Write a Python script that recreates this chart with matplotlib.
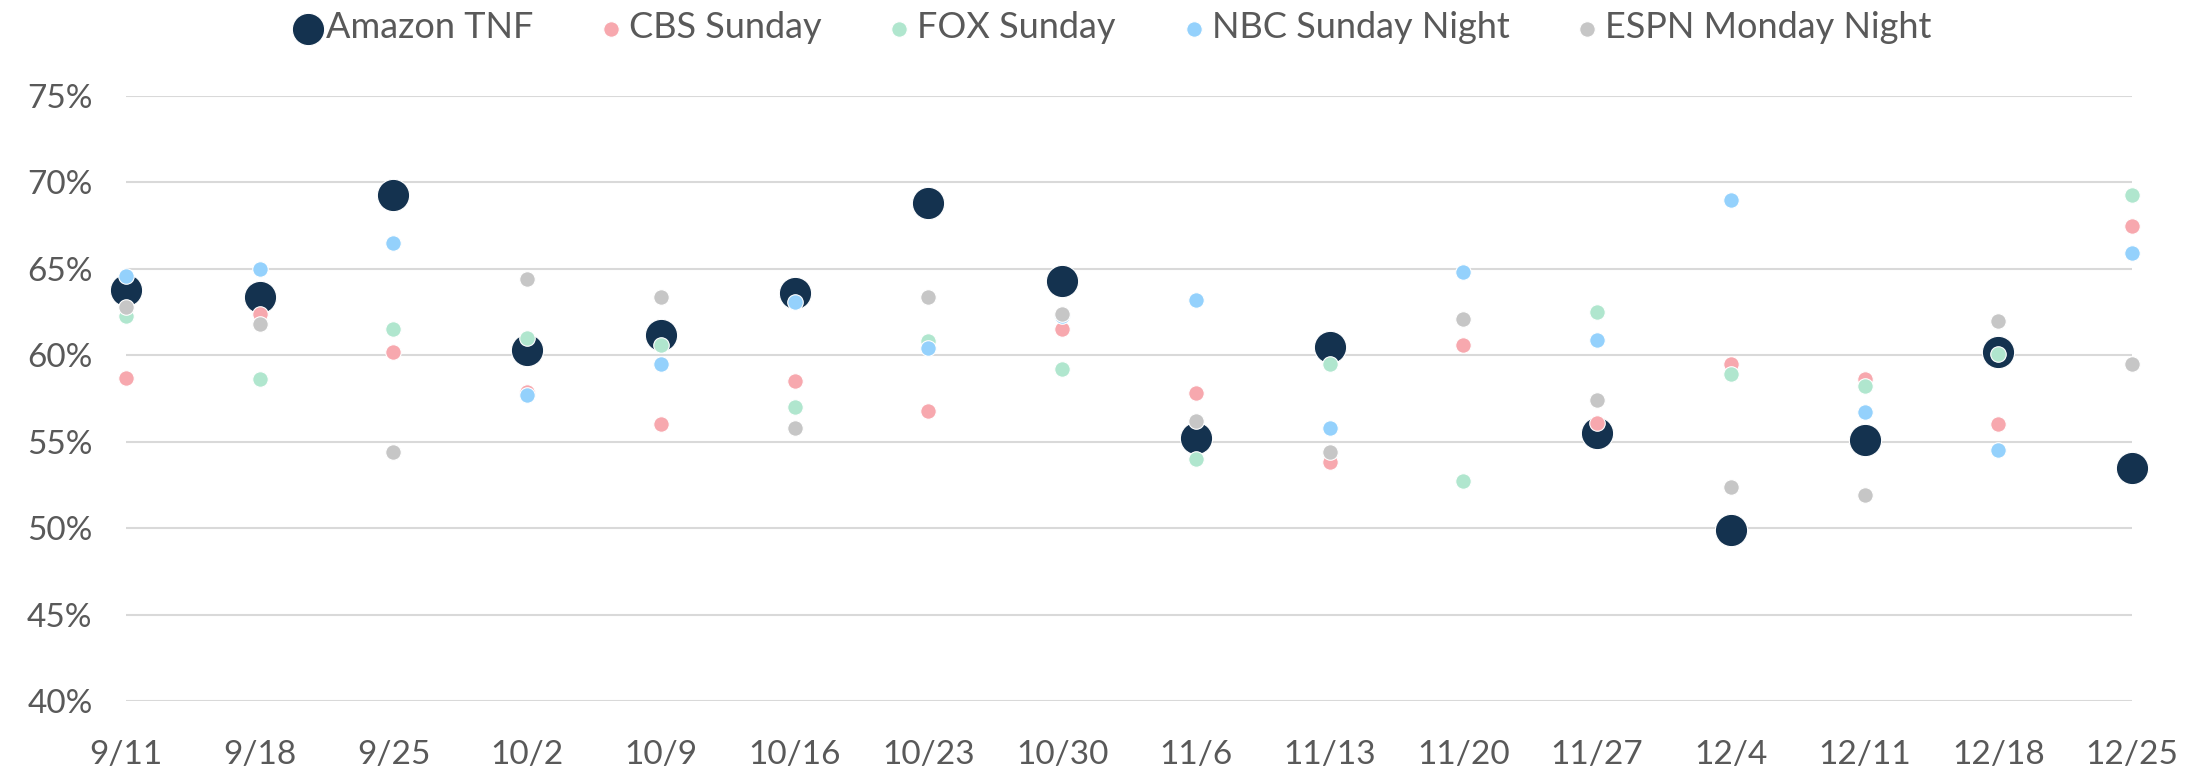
#!/usr/bin/env python
# -*- coding: utf-8 -*-

import numpy as np
import matplotlib
matplotlib.use('Agg')
import matplotlib.pyplot as plt
import matplotlib.ticker as mt

weeks = ['9/11', '9/18', '9/25', '10/2', '10/9', '10/16', '10/23', '10/30',
         '11/6', '11/13', '11/20', '11/27', '12/4', '12/11', '12/18', '12/25']

amazon = [63.8, 63.4, 69.3, 60.3, 61.2, 63.6, 68.8, 64.3,
          55.2, 60.5, np.nan, 55.5, 49.9, 55.1, 60.2, 53.5]
cbs = [58.7, 62.4, 60.2, 57.9, 56.0, 58.5, 56.8, 61.5,
       57.8, 53.8, 60.6, 56.1, 59.5, 58.6, 56.0, 67.5]
fox = [62.3, 58.6, 61.5, 61.0, 60.6, 57.0, 60.8, 59.2,
       54.0, 59.5, 52.7, 62.5, 58.9, 58.2, 60.1, 69.3]
nbc = [64.6, 65.0, 66.5, 57.7, 59.5, 63.1, 60.4, 62.3,
       63.2, 55.8, 64.8, 60.9, 69.0, 56.7, 54.5, 65.9]
espn = [62.8, 61.8, 54.4, 64.4, 63.4, 55.8, 63.4, 62.4,
        56.2, 54.4, 62.1, 57.4, 52.4, 51.9, 62.0, 59.5]

series = [
    ('Amazon TNF', amazon, '#14324f', 540),
    ('CBS Sunday', cbs, '#f7a8ae', 125),
    ('FOX Sunday', fox, '#b0e6ce', 125),
    ('NBC Sunday Night', nbc, '#94d1fc', 125),
    ('ESPN Monday Night', espn, '#c6c6c6', 125),
]

def main():
    plt.rcParams['font.family'] = ['Lato', 'DejaVu Sans']
    fig = plt.figure(figsize=(21.9, 7.73), dpi=100)
    ax = fig.add_axes([126/2190, 1-701/773, (2132-126)/2190, (701-96)/773])
    x = np.arange(len(weeks))
    for i, (name, vals, col, s) in enumerate(series):
        ax.scatter(x, vals, s=s, color=col, edgecolors='white', linewidths=0.8,
                   label=name, zorder=3+i, clip_on=False)
    # range
    ax.set_xlim(0, len(weeks)-1)
    ax.set_ylim(40, 75)
    ax.set_yticks(np.arange(40, 76, 5))
    ax.yaxis.set_major_formatter(mt.FuncFormatter(lambda v, p: '%d%%' % v))
    ax.set_xticks(x)
    ax.set_xticklabels(weeks)
    # tune
    for sp in ax.spines.values():
        sp.set_visible(False)
    ax.grid(axis='y', color='#d9d9d9', lw=1.5)
    ax.set_axisbelow(True)
    ax.tick_params(axis='both', length=0, labelsize=24, labelcolor='#595959')
    ax.tick_params(axis='y', pad=24)
    ax.tick_params(axis='x', pad=28)
    leg = ax.legend(loc='center', bbox_to_anchor=(0.508, 1-28/773), bbox_transform=fig.transFigure,
                    ncol=5, frameon=False, fontsize=26, handlelength=0.8, handletextpad=0.1,
                    columnspacing=1.75, borderaxespad=0)
    for t in leg.get_texts():
        t.set_color('#595959')
    plt.savefig('out.png', dpi=100)

if __name__ == '__main__':
    main()
